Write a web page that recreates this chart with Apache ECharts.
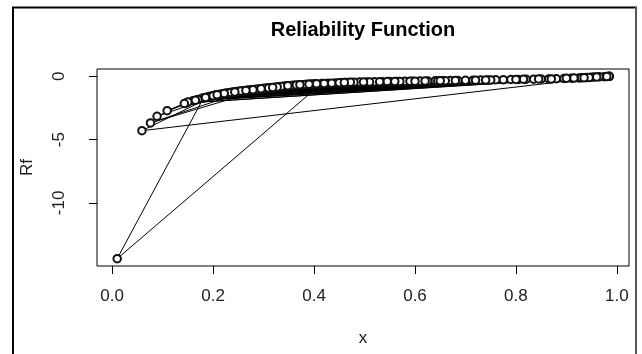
<!DOCTYPE html>
<html>
<head>
<meta charset="utf-8">
<script src="https://cdn.jsdelivr.net/npm/echarts@6/dist/echarts.min.js"></script>
<style>
html,body{margin:0;padding:0;background:#fff;}
#chart{width:642px;height:354px;}
</style>
</head>
<body>
<div id="chart"></div>
<script>
// Data (points in plotting order)
var xValues = [
  0.52, 0.238, 0.805, 0.331, 0.655, 0.181, 0.01, 0.415, 0.895, 0.268,
  0.565, 0.36, 0.73, 0.203, 0.059, 0.975, 0.147, 0.94, 0.443, 0.29,
  0.61, 0.225, 0.85, 0.378, 0.505, 0.307, 0.076, 0.27, 0.965, 0.16,
  0.925, 0.468, 0.245, 0.685, 0.395, 0.775, 0.34, 0.58, 0.15, 0.089,
  0.219, 0.91, 0.19, 0.88, 0.315, 0.49, 0.26, 0.64, 0.428, 0.745,
  0.535, 0.351, 0.865, 0.283, 0.143, 0.109, 0.178, 0.955, 0.17, 0.70,
  0.403, 0.232, 0.715, 0.455, 0.298, 0.595, 0.82, 0.37, 0.252, 0.67,
  0.479, 0.323, 0.21, 0.55, 0.387, 0.76, 0.275, 0.625, 0.195, 0.985,
  0.344, 0.435, 0.241, 0.51, 0.356, 0.286, 0.79, 0.462, 0.228, 0.645,
  0.398, 0.835, 0.312, 0.545, 0.72, 0.262, 0.95, 0.365, 0.59, 0.472,
  0.248, 0.68, 0.335, 0.915, 0.42, 0.279, 0.57, 0.815, 0.382, 0.214,
  0.66, 0.302, 0.75, 0.498, 0.985, 0.327, 0.87, 0.45, 0.235, 0.62,
  0.205, 0.93, 0.31, 0.53, 0.222, 0.96, 0.39, 0.185, 0.845, 0.295,
  0.405, 0.65, 0.255, 0.945, 0.348, 0.60, 0.20, 0.90, 0.265, 0.46,
  0.165, 0.935, 0.318, 0.74, 0.208, 0.98, 0.372, 0.56, 0.243, 0.80
];
var rfValues = [
  -0.43, -1.26, -0.24, -0.82, -0.34, -1.71, -14.4, -0.57, -0.17, -1.10,
  -0.40, -0.71, -0.29, -1.50, -4.29, -0.03, -2.10, -0.10, -0.52, -1.00,
  -0.37, -1.34, -0.21, -0.66, -0.44, -0.93, -3.68, -1.09, -0.04, -1.93,
  -0.13, -0.48, -1.22, -0.32, -0.61, -0.26, -0.78, -0.39, -2.03, -3.16,
  -1.37, -0.15, -1.62, -0.19, -0.90, -0.45, -1.14, -0.35, -0.55, -0.28,
  -0.42, -0.74, -0.20, -1.03, -2.15, -2.71, -1.74, -0.05, -1.82, -0.31,
  -0.59, -1.30, -0.30, -0.50, -0.97, -0.38, -0.23, -0.68, -1.18, -0.33,
  -0.46, -0.86, -1.45, -0.41, -0.63, -0.27, -1.06, -0.36, -1.58, 0.00,
  -0.77, -0.54, -1.24, -0.44, -0.72, -1.02, -0.25, -0.49, -1.32, -0.35,
  -0.60, -0.22, -0.91, -0.41, -0.30, -1.13, -0.07, -0.69, -0.38, -0.47,
  -1.20, -0.32, -0.80, -0.14, -0.56, -1.05, -0.40, -0.23, -0.65, -1.42,
  -0.34, -0.95, -0.28, -0.45, 0.00, -0.84, -0.20, -0.51, -1.28, -0.36,
  -1.49, -0.12, -0.92, -0.43, -1.35, -0.05, -0.62, -1.67, -0.21, -0.98,
  -0.59, -0.34, -1.16, -0.09, -0.75, -0.38, -1.53, -0.16, -1.11, -0.49,
  -1.88, -0.11, -0.89, -0.28, -1.46, -0.02, -0.67, -0.40, -1.23, -0.24
];
var xTicks = [0.0, 0.2, 0.4, 0.6, 0.8, 1.0];
var yTicks = [0, -5, -10];
var titleText = 'Reliability Function';
var xName = 'x';
var yName = 'Rf';

var points = xValues.map(function (x, i) { return [x, rfValues[i]]; });

var chart = echarts.init(document.getElementById('chart'), null, {renderer: 'canvas'});
var FONT = 'Liberation Sans, Arial, sans-serif';
chart.setOption({
  animation: false,
  backgroundColor: '#fff',
  grid: {
    left: 97, right: 13, top: 69, bottom: 88,
    show: true, borderColor: '#000', borderWidth: 1,
    backgroundColor: 'transparent',
    containLabel: false, outerBoundsMode: 'none'
  },
  graphic: [
    {type: 'text', x: 363, y: 30, style: {
      text: titleText, font: 'bold 20px ' + FONT, fill: '#000',
      textAlign: 'center', textVerticalAlign: 'middle'}},
    {type: 'line', shape: {x1: 13, y1: 7, x2: 13, y2: 354}, style: {stroke: '#000', lineWidth: 2}},
    {type: 'line', shape: {x1: 12, y1: 7.5, x2: 637, y2: 7.5}, style: {stroke: '#000', lineWidth: 2}},
    {type: 'line', shape: {x1: 636, y1: 7, x2: 636, y2: 354}, style: {stroke: '#555', lineWidth: 2}}
  ],
  xAxis: {
    type: 'value', min: -0.030, max: 1.024,
    name: xName, nameLocation: 'middle', nameGap: 64,
    nameTextStyle: {fontFamily: FONT, fontSize: 17, color: '#222'},
    axisLine: {show: false, onZero: false},
    splitLine: {show: false},
    axisTick: {show: true, length: 8, customValues: xTicks, lineStyle: {color: '#000', width: 1}},
    axisLabel: {customValues: xTicks, margin: 22, fontFamily: FONT, fontSize: 17, color: '#222',
      formatter: function (v) { return v.toFixed(1); }}
  },
  yAxis: {
    type: 'value', min: -14.98, max: 0.58,
    name: yName, nameLocation: 'middle', nameGap: 61, nameRotate: 90,
    nameTextStyle: {fontFamily: FONT, fontSize: 17, color: '#222'},
    axisLine: {show: false, onZero: false},
    splitLine: {show: false},
    axisTick: {show: true, length: 8, customValues: yTicks, lineStyle: {color: '#000', width: 1}},
    axisLabel: {customValues: yTicks, margin: 29, rotate: 90, fontFamily: FONT, fontSize: 17, color: '#222',
      formatter: function (v) { return String(v); }}
  },
  series: [{
    type: 'line',
    data: points,
    symbol: 'emptyCircle',
    symbolSize: 7.5,
    showAllSymbol: true,
    itemStyle: {color: '#111', borderWidth: 0.9},
    lineStyle: {color: '#000', width: 1},
    emphasis: {disabled: true}
  }]
});
</script>
</body>
</html>
